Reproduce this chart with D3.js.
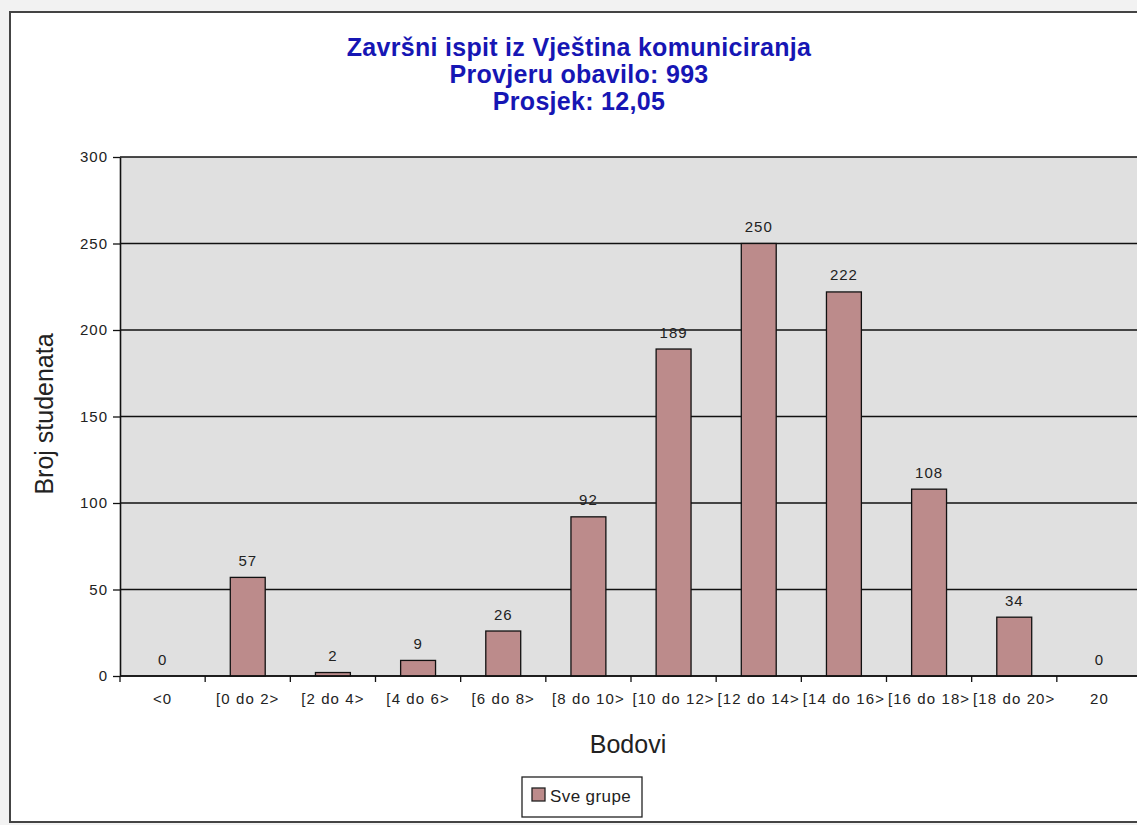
<!DOCTYPE html>
<html>
<head>
<meta charset="utf-8">
<script src="https://cdn.jsdelivr.net/npm/d3@7"></script>
<style>
  body { margin: 0; background: #f2f2f2; overflow: hidden; }
  svg text { font-family: Arial, "Liberation Sans", sans-serif; }
</style>
</head>
<body>
<div id="chart"></div>
<script>
// chart data
var categories = ["<0", "[0 do 2>", "[2 do 4>", "[4 do 6>", "[6 do 8>", "[8 do 10>",
                  "[10 do 12>", "[12 do 14>", "[14 do 16>", "[16 do 18>", "[18 do 20>", "20"];
var counts = [0, 57, 2, 9, 26, 92, 189, 250, 222, 108, 34, 0];
var yTicks = [0, 50, 100, 150, 200, 250, 300];
var titleLines = ["Završni ispit iz Vještina komuniciranja", "Provjeru obavilo: 993", "Prosjek: 12,05"];
var seriesName = "Sve grupe";

var W = 1137, H = 825;
var margin = {top: 157, left: 120, bottom: 149},
    plotW = 1022,
    plotH = H - margin.top - margin.bottom;

var svg = d3.select("#chart")
  .append("svg")
    .attr("width", W)
    .attr("height", H);

// outer frame
svg.append("rect")
    .attr("x", 10).attr("y", 12)
    .attr("width", 1142).attr("height", 810)
    .attr("fill", "#fff")
    .attr("stroke", "#444")
    .attr("stroke-width", 2);

// title
svg.append("g").selectAll("text")
    .data(titleLines)
    .enter().append("text")
    .attr("x", 579)
    .attr("y", function(d, i) { return 56 + i * 27; })
    .attr("text-anchor", "middle")
    .style("font-size", "25px")
    .style("font-weight", "bold")
    .style("letter-spacing", "0.3px")
    .style("fill", "#1616b4")
    .text(function(d) { return d; });

var g = svg.append("g")
    .attr("transform", "translate(" + margin.left + "," + margin.top + ")");

var x = d3.scaleBand()
    .domain(categories)
    .range([0, plotW])
    .paddingInner(0.59)
    .paddingOuter(0.295);

var xb = d3.scaleBand()
    .domain(categories)
    .range([0, plotW]);

var y = d3.scaleLinear()
    .domain([0, 300])
    .range([plotH, 0]);

// plot background
g.append("rect")
    .attr("width", plotW)
    .attr("height", plotH)
    .attr("fill", "#e0e0e0");

// gridlines
g.append("g").selectAll("line")
    .data(yTicks)
    .enter().append("line")
    .attr("x1", 0).attr("x2", plotW)
    .attr("y1", function(d) { return y(d); })
    .attr("y2", function(d) { return y(d); })
    .attr("stroke", "#111")
    .attr("stroke-width", 1.3);

// bars
g.append("g").selectAll("rect")
    .data(counts)
    .enter().append("rect")
    .attr("x", function(d, i) { return x(categories[i]); })
    .attr("y", function(d) { return y(d); })
    .attr("width", x.bandwidth())
    .attr("height", function(d) { return plotH - y(d); })
    .attr("fill", "#bc8b8b")
    .attr("stroke", "#111")
    .attr("stroke-width", 1.3);

// value labels
g.append("g").selectAll("text")
    .data(counts)
    .enter().append("text")
    .attr("x", function(d, i) { return x(categories[i]) + x.bandwidth() / 2; })
    .attr("y", function(d) { return y(d) - 11.5; })
    .attr("text-anchor", "middle")
    .style("font-size", "15px")
    .style("letter-spacing", "1px")
    .style("fill", "#222")
    .text(function(d) { return d; });

// y axis
var yAxis = g.append("g")
    .call(d3.axisLeft(y).tickValues(yTicks).tickSize(7).tickPadding(5).tickSizeOuter(0));
yAxis.select(".domain").attr("stroke", "#111").attr("stroke-width", 1.6);
yAxis.selectAll(".tick line").attr("stroke", "#111").attr("stroke-width", 1.3);
yAxis.selectAll("text")
    .style("font-size", "15px")
    .style("letter-spacing", "1px")
    .style("fill", "#222")
    .style("font-family", "Arial, 'Liberation Sans', sans-serif");

// x axis: ticks on category boundaries
var xAxis = g.append("g")
    .attr("transform", "translate(0," + plotH + ")");
xAxis.append("line")
    .attr("x1", 0).attr("x2", plotW)
    .attr("stroke", "#111").attr("stroke-width", 1.6);
xAxis.selectAll(".bt")
    .data(categories)
    .enter().append("line")
    .attr("class", "bt")
    .attr("x1", function(d) { return xb(d); })
    .attr("x2", function(d) { return xb(d); })
    .attr("y1", 0).attr("y2", 6)
    .attr("stroke", "#111").attr("stroke-width", 1.3);
xAxis.selectAll(".lbl")
    .data(categories)
    .enter().append("text")
    .attr("class", "lbl")
    .attr("x", function(d) { return xb(d) + xb.bandwidth() / 2; })
    .attr("y", 28)
    .attr("text-anchor", "middle")
    .style("font-size", "15px")
    .style("letter-spacing", "1.1px")
    .style("fill", "#222")
    .text(function(d) { return d; });

// axis titles
svg.append("text")
    .attr("transform", "translate(53,414) rotate(-90)")
    .attr("text-anchor", "middle")
    .style("font-size", "25px")
    .style("fill", "#222")
    .text("Broj studenata");

svg.append("text")
    .attr("x", 628)
    .attr("y", 753)
    .attr("text-anchor", "middle")
    .style("font-size", "25px")
    .style("fill", "#222")
    .text("Bodovi");

// legend
var lg = svg.append("g").attr("transform", "translate(522,777)");
lg.append("rect")
    .attr("width", 120).attr("height", 40)
    .attr("fill", "#fff")
    .attr("stroke", "#222").attr("stroke-width", 1.3);
lg.append("rect")
    .attr("x", 10).attr("y", 11)
    .attr("width", 13).attr("height", 13)
    .attr("fill", "#bc8b8b")
    .attr("stroke", "#222").attr("stroke-width", 1.3);
lg.append("text")
    .attr("x", 28).attr("y", 25)
    .style("font-size", "17px")
    .style("letter-spacing", "0.4px")
    .style("fill", "#222")
    .text(seriesName);
</script>
</body>
</html>
